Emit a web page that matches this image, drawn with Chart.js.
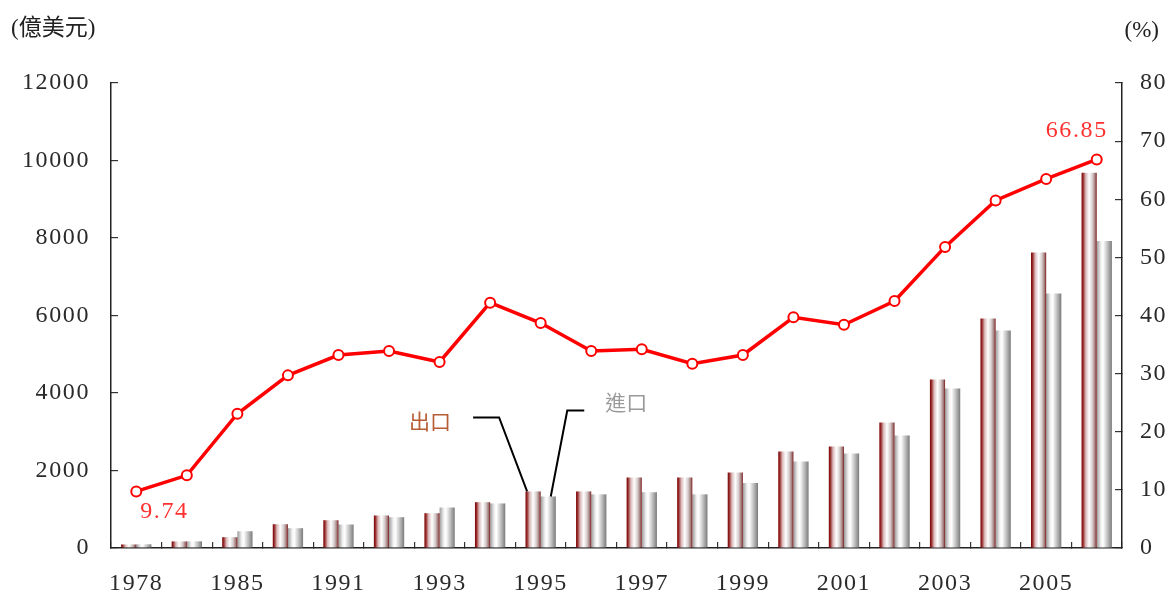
<!DOCTYPE html>
<html><head><meta charset="utf-8">
<script src="https://cdn.jsdelivr.net/npm/chart.js@4.4.1/dist/chart.umd.min.js"></script>
<style>html,body{margin:0;padding:0;background:#fff}#wrap{width:1169px;height:595px;position:relative}</style>
</head><body><div id="wrap"><canvas id="c" width="1169" height="595"></canvas></div>
<script>
// ---- data ----
const categories = ['1978','1980','1985','1990','1991','1992','1993','1994','1995','1996','1997','1998','1999','2000','2001','2002','2003','2004','2005','2006'];
const shownYearLabels = ['1978','1985','1991','1993','1995','1997','1999','2001','2003','2005'];
const exportValues = [92,170,279,614,717,839,898,1182,1460,1460,1820,1820,1948,2490,2620,3240,4350,5925,7625,9685];
const importValues = [95,172,433,511,606,795,1045,1150,1330,1385,1440,1385,1675,2235,2440,2905,4115,5615,6570,7920];
const ratioValues = [9.74,12.5,23.1,29.7,33.2,33.9,32.0,42.2,38.7,33.9,34.2,31.7,33.2,39.7,38.4,42.5,51.8,59.8,63.5,66.85];
const leftTicks = [0,2000,4000,6000,8000,10000,12000];
const rightTicks = [0,10,20,30,40,50,60,70,80];
const seriesNames = ['出口','進口','比率'];
const axisTitles = ['(億美元)','(%)'];
const pointLabels = [{index:0,text:'9.74'},{index:19,text:'66.85'}];

// ---- styles ----
const SERIF = "'Liberation Serif','Times New Roman',serif";
const exportStops = [[0,'#7a0000'],[0.1,'#962a2a'],[0.28,'#dcbcbc'],[0.5,'#ffffff'],[0.72,'#d6cccc'],[0.9,'#a07676'],[1,'#7a1515']];
const importStops = [[0,'#9a9a9a'],[0.28,'#f2f2f2'],[0.42,'#ffffff'],[0.72,'#bdbdbd'],[1,'#7a7a7a']];
const CAT_PCT = 0.6;

function barGradient(ctx, stops, side){
  const chart = ctx.chart, xs = chart.scales && chart.scales.x;
  if (!xs || ctx.type !== 'data' || !chart.chartArea) return stops[3][1];
  const c = xs.getPixelForValue(ctx.dataIndex);
  const catW = (xs.right - xs.left) / categories.length;
  const bw = catW * CAT_PCT / 2;
  const x0 = side === 0 ? c - bw : c;
  const g = chart.ctx.createLinearGradient(x0, 0, x0 + bw, 0);
  stops.forEach(s => g.addColorStop(s[0], s[1]));
  return g;
}

const spacingPlugin = {
  id: 'spacing',
  beforeDraw(chart){ chart.ctx.letterSpacing = '1.6px'; },
};

const annotPlugin = {
  id: 'annot',
  afterDatasetsDraw(chart){
    const ctx = chart.ctx;
    ctx.save();
    const lineMeta = chart.getDatasetMeta(0);
    ctx.font = '24px ' + SERIF;
    ctx.letterSpacing = '1.6px';
    ctx.fillStyle = '#ff3030';
    ctx.textBaseline = 'middle';
    pointLabels.forEach((pl, k) => {
      const p = lineMeta.data[pl.index];
      if (k === 0) { ctx.textAlign = 'left'; ctx.fillText(pl.text, p.x + 4, p.y + 20); }
      else { ctx.textAlign = 'center'; ctx.fillText(pl.text, p.x - 20, p.y - 29); }
    });
    const idx = categories.indexOf('1995');
    const ex = chart.getDatasetMeta(1).data[idx];
    const im = chart.getDatasetMeta(2).data[idx];
    ctx.letterSpacing = '0px';
    ctx.strokeStyle = '#000';
    ctx.lineWidth = 2;
    ctx.beginPath();
    ctx.moveTo(ex.x - 60, ex.y - 74);
    ctx.lineTo(ex.x - 34, ex.y - 74);
    ctx.lineTo(ex.x - 6, ex.y);
    ctx.stroke();
    ctx.beginPath();
    ctx.moveTo(im.x + 36, im.y - 86);
    ctx.lineTo(im.x + 19, im.y - 86);
    ctx.lineTo(im.x + 2.5, im.y);
    ctx.stroke();
    ctx.font = "21px 'Noto Sans CJK TC','Noto Sans CJK SC',sans-serif";
    ctx.textAlign = 'center';
    ctx.fillStyle = '#b85c35';
    ctx.fillText(seriesNames[0], ex.x - 103, ex.y - 70);
    ctx.fillStyle = '#9a9a9a';
    ctx.fillText(seriesNames[1], im.x + 78, im.y - 94);
    ctx.fillStyle = '#222';
    ctx.font = "23px " + SERIF + ",'Noto Sans CJK TC'";
    ctx.textAlign = 'left';
    ctx.fillText(axisTitles[0], 11, 29);
    ctx.textAlign = 'right';
    ctx.fillText(axisTitles[1], 1159, 31);
    ctx.restore();
  }
};

const tickFont = { family: SERIF, size: 24 };
const tickColor = '#2a2a2a';

new Chart(document.getElementById('c'), {
  type: 'bar',
  data: {
    labels: categories,
    datasets: [
      { type:'line', label: seriesNames[2], data: ratioValues, yAxisID:'y1', order:0,
        borderColor:'#ff0000', borderWidth:3.5, pointRadius:5, pointHoverRadius:5,
        pointBackgroundColor:'#ffffff', pointBorderColor:'#ff0000', pointBorderWidth:2, tension:0, fill:false },
      { label: seriesNames[0], data: exportValues, yAxisID:'y', order:1,
        backgroundColor: c => barGradient(c, exportStops, 0), borderWidth:0,
        categoryPercentage: CAT_PCT, barPercentage: 1 },
      { label: seriesNames[1], data: importValues, yAxisID:'y', order:2,
        backgroundColor: c => barGradient(c, importStops, 1), borderWidth:0,
        categoryPercentage: CAT_PCT, barPercentage: 1 },
    ]
  },
  options: {
    responsive:false, animation:false, devicePixelRatio:1,
    layout:{ padding:{ top:83, left:0, right:0, bottom:0 } },
    plugins:{ legend:{display:false}, tooltip:{enabled:false}, title:{display:false} },
    scales:{
      x:{
        offset:true,
        grid:{ display:true, drawOnChartArea:false, offset:true, tickLength:-6, color:'#333', lineWidth:1.2 },
        border:{ display:true, color:'#222', width:1.5 },
        ticks:{ autoSkip:false, maxRotation:0, minRotation:0, padding:27, font:tickFont, color:tickColor,
          callback:(v,i) => shownYearLabels.includes(categories[i]) ? categories[i] : '' },
        afterFit: s => { s.height = 47; }
      },
      y:{
        position:'left', min:0, max:12000,
        afterBuildTicks: s => { s.ticks = leftTicks.map(v => ({value:v})); },
        grid:{ display:true, drawOnChartArea:false, tickLength:-7, color:'#333', lineWidth:1.2 },
        border:{ display:true, color:'#222', width:1.5 },
        ticks:{ padding:28, font:tickFont, color:tickColor, callback: v => String(v) },
        afterFit: s => { s.width = 111; }
      },
      y1:{
        position:'right', min:0, max:80,
        afterBuildTicks: s => { s.ticks = rightTicks.map(v => ({value:v})); },
        grid:{ display:true, drawOnChartArea:false, tickLength:-7, color:'#333', lineWidth:1.2 },
        border:{ display:true, color:'#222', width:1.5 },
        ticks:{ padding:25, font:tickFont, color:tickColor, callback: v => String(v) },
        afterFit: s => { s.width = 47; }
      }
    }
  },
  plugins:[spacingPlugin, annotPlugin]
});
</script>
</body></html>
